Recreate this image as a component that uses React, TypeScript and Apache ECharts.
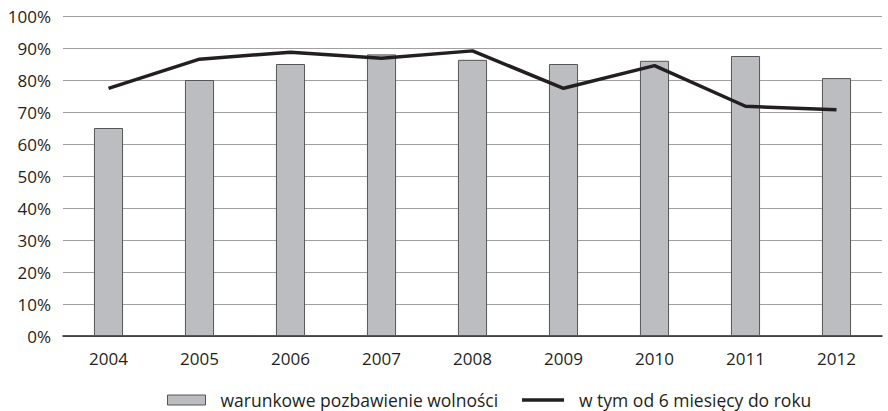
import React, { useEffect, useRef } from "react";
import * as echarts from "echarts";

const years = ["2004", "2005", "2006", "2007", "2008", "2009", "2010", "2011", "2012"];
const barValues = [65, 80, 85, 88, 86.3, 85, 86, 87.5, 80.6];
const lineValues = [77.4, 86.5, 88.7, 86.8, 89.1, 77.4, 84.5, 71.8, 70.7];
const barName = "warunkowe pozbawienie wolności";
const lineName = "w tym od 6 miesięcy do roku";

export default function App() {
  const ref = useRef<HTMLDivElement>(null);
  useEffect(() => {
    const chart = echarts.init(ref.current!, null, { renderer: "svg" });
    const font = "'Open Sans', 'Liberation Sans', sans-serif";
    const legendText = { fontFamily: font, fontSize: 17.5, color: "#231f20", padding: [0, 0, 0, 10] };
    chart.setOption({
      animation: false,
      textStyle: { fontFamily: font },
      grid: { left: 63, right: 6, top: 16, bottom: 75, containLabel: false },
      legend: [
        {
          left: 167,
          top: 391,
          padding: 0,
          textStyle: legendText,
          data: [{ name: barName, icon: "rect" }],
          itemStyle: { color: "#bcbdc0", borderColor: "#555", borderWidth: 1 },
          itemWidth: 38,
          itemHeight: 10,
        },
        {
          left: 522,
          top: 391,
          padding: 0,
          textStyle: legendText,
          data: [{ name: lineName, icon: "rect" }],
          itemStyle: { color: "#231f20", borderWidth: 0 },
          lineStyle: { width: 0 },
          itemWidth: 42,
          itemHeight: 3.5,
        },
      ],
      xAxis: {
        type: "category",
        data: years,
        axisLine: { lineStyle: { color: "#231f20", width: 1.5 } },
        axisTick: { show: false },
        axisLabel: { fontSize: 17, color: "#231f20", margin: 14, fontFamily: font },
      },
      yAxis: {
        type: "value",
        min: 0,
        max: 100,
        interval: 10,
        axisLine: { show: false },
        axisTick: { show: false },
        splitLine: { lineStyle: { color: "#a0a0a0", width: 1 } },
        axisLabel: { formatter: "{value}%", fontSize: 17, color: "#231f20", margin: 12, fontFamily: font },
      },
      series: [
        {
          name: barName,
          type: "bar",
          data: barValues,
          barWidth: "32%",
          itemStyle: { color: "#bcbdc0", borderColor: "#555", borderWidth: 1 },
        },
        {
          name: lineName,
          type: "line",
          data: lineValues,
          symbol: "none",
          lineStyle: { color: "#231f20", width: 3.5 },
          itemStyle: { color: "#231f20" },
        },
      ],
    });
    return () => chart.dispose();
  }, []);
  return <div ref={ref} style={{ width: 888, height: 411, position: "absolute", left: 0, top: 0 }} />;
}
